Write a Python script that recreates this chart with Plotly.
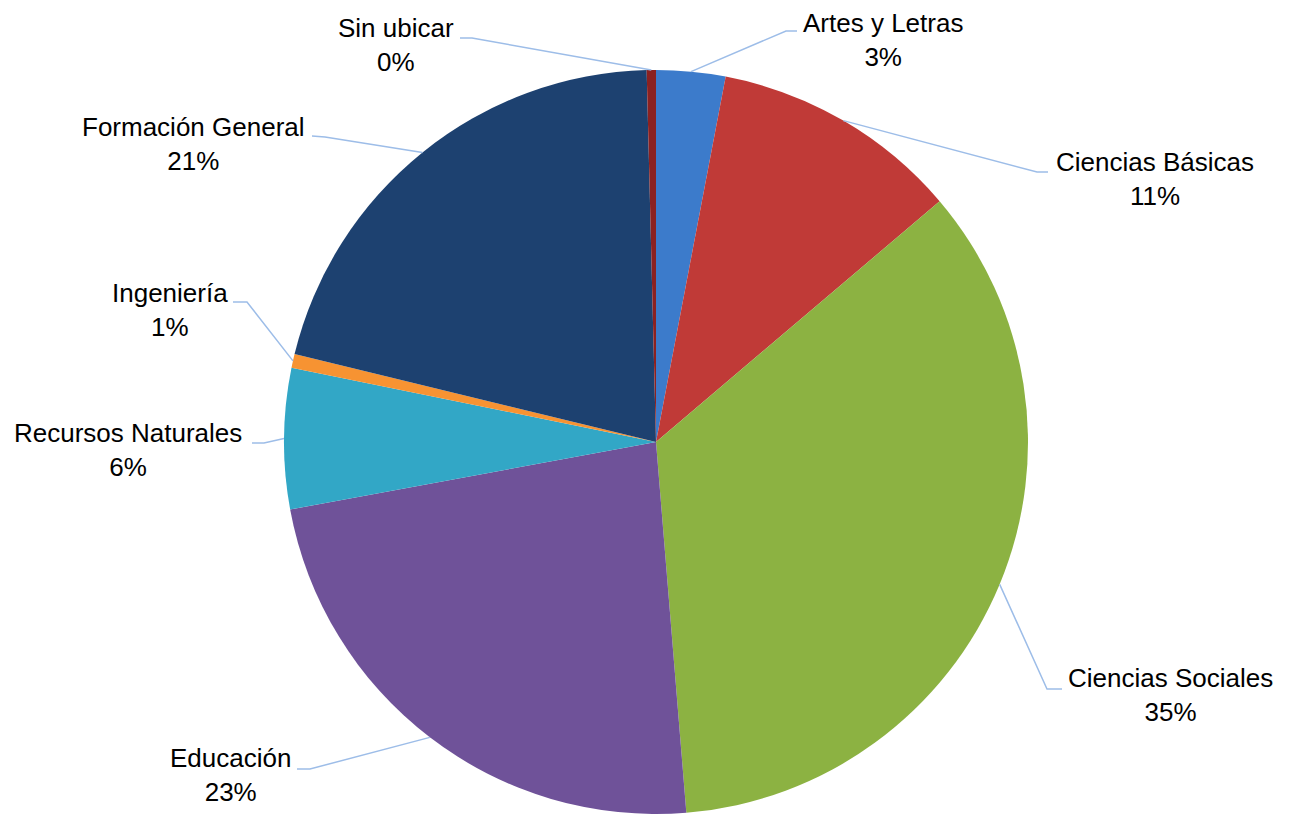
import math
import plotly.graph_objects as go

# ---- data ----
categories = ["Artes y Letras", "Ciencias Básicas", "Ciencias Sociales", "Educación",
              "Recursos Naturales", "Ingeniería", "Formación General", "Sin ubicar"]
shares = [3.0, 10.8, 34.9, 23.4, 6.1, 0.6, 20.8, 0.4]

# ---- styles ----
colors = ["#3C7BCB", "#C03A37", "#8CB242", "#6F5299",
          "#32A7C6", "#F79332", "#1D4170", "#8B2121"]

PAGE_OFF = 8               # default body margin of the html page
W, H = 1291 - PAGE_OFF, 816 - PAGE_OFF
CX, CY, R = 656, 442, 372  # pie centre and radius in page pixels

# label layout (page pixels): text centre, leader attach point at label, elbow point
label_layout = {
    "Artes y Letras":     ((883, 40),   (797, 31),   (786, 31)),
    "Ciencias Básicas":   ((1155, 179), (1048, 172), (1037, 172)),
    "Ciencias Sociales":  ((1170, 695), (1062, 689), (1047, 689)),
    "Educación":          ((230, 775),  (297, 769),  (310, 769)),
    "Recursos Naturales": ((128, 450),  (252, 443),  (264, 443)),
    "Ingeniería":         ((170, 310),  (233, 302),  (247, 302)),
    "Formación General":  ((193, 144),  (312, 136),  (325, 137)),
    "Sin ubicar":         ((396, 45),   (460, 38),   (472, 38)),
}


def px(x, y):
    return (x - PAGE_OFF) / W, 1 - (y - PAGE_OFF) / H


cxf, cyf = CX - PAGE_OFF, CY - PAGE_OFF
fig = go.Figure(go.Pie(
    labels=categories,
    values=shares,
    sort=False,
    direction="clockwise",
    rotation=0,
    marker=dict(colors=colors, line=dict(width=0)),
    textinfo="none",
    hoverinfo="label+percent",
    showlegend=False,
    domain=dict(x=[(cxf - R) / W, (cxf + R) / W],
                y=[(H - cyf - R) / H, (H - cyf + R) / H]),
))

total = sum(shares)
cum = 0.0
annotations = []
shapes = []
for cat, v in zip(categories, shares):
    mid = (cum + v / 2) / total * 2 * math.pi
    cum += v
    ex, ey = CX + R * math.sin(mid), CY - R * math.cos(mid)
    (tx, ty), (ax, ay), (bx, by) = label_layout[cat]
    p0 = px(ex, ey)
    p1 = px(bx, by)
    p2 = px(ax, ay)
    shapes.append(dict(
        type="path", xref="paper", yref="paper",
        path=f"M {p0[0]},{p0[1]} L {p1[0]},{p1[1]} L {p2[0]},{p2[1]}",
        line=dict(color="#9DBDE8", width=1.5),
    ))
    pct = round(v / total * 100)
    tpx = px(tx, ty)
    annotations.append(dict(
        x=tpx[0], y=tpx[1], xref="paper", yref="paper",
        text=f"{cat}<br>{pct}%", showarrow=False,
        xanchor="center", yanchor="middle", align="center", borderpad=0,
        font=dict(family="Liberation Sans, Arial, sans-serif", size=26, color="#000000"),
    ))

fig.update_layout(
    width=W, height=H,
    margin=dict(l=0, r=0, t=0, b=0),
    paper_bgcolor="white", plot_bgcolor="white",
    annotations=annotations,
    shapes=shapes,
)

fig.write_html("out.html")
